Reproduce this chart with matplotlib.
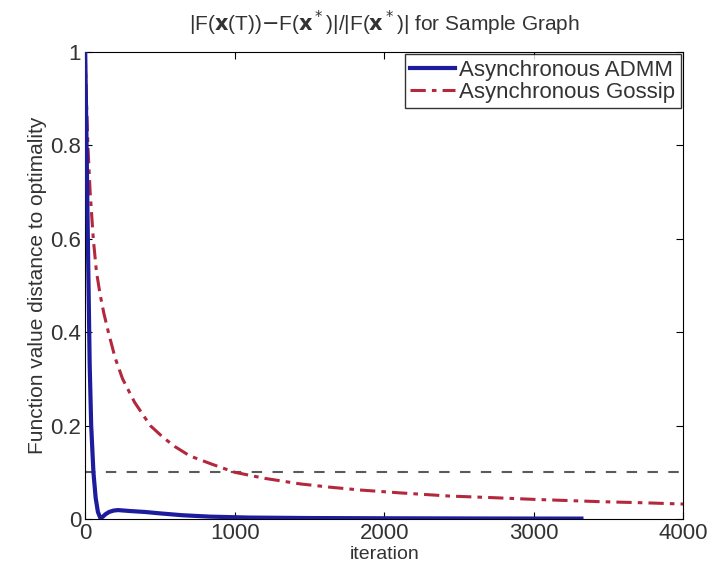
import matplotlib
matplotlib.use("Agg")
import matplotlib.pyplot as plt
import numpy as np

plt.rcParams['font.family'] = ['Liberation Sans', 'DejaVu Sans']

admm_iter = [0, 10, 20, 30, 40, 55, 70, 85, 100, 115, 135, 160, 190, 220, 260, 300, 400, 500, 650, 835, 1100, 1500, 2000, 2700, 3320]
admm_val = [1.0, 0.78, 0.55, 0.33, 0.2, 0.1, 0.045, 0.015, 0.003, 0.004, 0.01, 0.015, 0.018, 0.019, 0.018, 0.017, 0.015, 0.012, 0.008, 0.005, 0.003, 0.002, 0.0015, 0.001, 0.0008]

gossip_iter = [0, 8, 18, 33, 54, 75, 100, 125, 155, 200, 250, 330, 435, 520, 600, 700, 850, 1000, 1200, 1440, 1640, 1840, 2100, 2440, 2700, 3000, 3450, 3700, 4000]
gossip_val = [1.0, 0.9, 0.8, 0.70, 0.6, 0.53, 0.48, 0.44, 0.40, 0.345, 0.30, 0.25, 0.20, 0.175, 0.155, 0.135, 0.117, 0.1, 0.087, 0.075, 0.068, 0.062, 0.056, 0.049, 0.046, 0.042, 0.037, 0.035, 0.032]

threshold = 0.1

fig = plt.figure(figsize=(7.16, 5.76), dpi=100)
ax = fig.add_axes([0.119, 0.099, 0.835, 0.811])

ax.axhline(threshold, color='#5a5a5a', linestyle=(0, (5, 5)), linewidth=1.5, zorder=1)
ax.plot(admm_iter, admm_val, color='#1c1c9c', linewidth=3, label='Asynchronous ADMM', zorder=3)
ax.plot(gossip_iter, gossip_val, color='#b3283c', linestyle=(0, (5, 2, 1.5, 2)), linewidth=2.2,
        label='Asynchronous Gossip', zorder=2)

ax.set_xlim(0, 4000)
ax.set_ylim(0, 1)
ax.set_xticks([0, 1000, 2000, 3000, 4000])
ax.set_yticks([0, 0.2, 0.4, 0.6, 0.8, 1])
ax.set_yticklabels(['0', '0.2', '0.4', '0.6', '0.8', '1'])
ax.tick_params(direction='in', top=True, right=True, labelsize=16, length=5, pad=3,
               labelcolor='#333333')
ax.set_xlabel('iteration', fontsize=14, labelpad=1, color='#333333')
ax.set_ylabel('Function value distance to optimality', fontsize=15, labelpad=2, color='#333333')
ax.set_title(r'|F($\mathbf{x}$(T))$-$F($\mathbf{x}^*$)|/|F($\mathbf{x}^*$)| for Sample Graph',
             fontsize=15, pad=15, color='#333333')

leg = ax.legend(loc='upper right', fontsize=16, frameon=True, fancybox=False,
                edgecolor='black', borderaxespad=0.1, handlelength=2.0,
                handletextpad=0.2, borderpad=0.25, labelspacing=0.05)
leg.get_frame().set_linewidth(1.0)
for t in leg.get_texts():
    t.set_color('#333333')

fig.savefig('out.png', dpi=100)
